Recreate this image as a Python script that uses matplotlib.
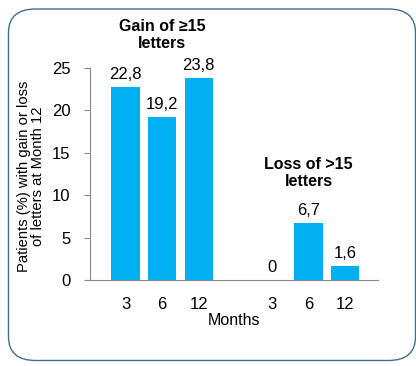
import matplotlib.pyplot as plt
from matplotlib.patches import FancyBboxPatch

plt.rcParams['font.family'] = ['Liberation Sans', 'DejaVu Sans']

months = ['3', '6', '12', '3', '6', '12']
gain = [22.8, 19.2, 23.8]
loss = [0.0, 6.7, 1.6]
gain_title = 'Gain of \u226515\nletters'
loss_title = 'Loss of >15\nletters'

values = gain + loss
pos = [0, 1, 2, 4, 5, 6]

fig = plt.figure(figsize=(4.16, 3.66), dpi=100)

# rounded frame around the whole chart
frame = FancyBboxPatch((8.5 / 416, 5.5 / 366), 407 / 416, 351.5 / 366,
                       boxstyle='round,pad=0,rounding_size=0.065',
                       transform=fig.transFigure, fill=False,
                       edgecolor='#41708c', linewidth=1.0, zorder=0)
fig.patches.append(frame)

ax = fig.add_axes([90 / 416, 1 - 280 / 366, 288 / 416, 212 / 366])
bars = ax.bar(pos, values, width=0.77, color='#00b0f0')

for x, v in zip(pos, values):
    ax.text(x, v + 0.6, f'{v:.1f}'.replace('.', ',') if v else '0',
            ha='center', va='bottom', fontsize=12)

ax.text(1, 28.9, gain_title, ha='center', va='center', fontsize=11.5,
        fontweight='bold', linespacing=1.15)
ax.text(5, 12.6, loss_title, ha='center', va='center', fontsize=11.5,
        fontweight='bold', linespacing=1.15)

ax.set_xlim(-0.97, 6.9)
ax.set_ylim(0, 25)
ax.set_yticks([0, 5, 10, 15, 20, 25])
ax.set_xticks(pos)
ax.set_xticklabels(months)
ax.tick_params(axis='x', length=0, labelsize=12, pad=12)
ax.tick_params(axis='y', length=4, color='#888888', labelsize=12, pad=10)
for side in ['top', 'right']:
    ax.spines[side].set_visible(False)
for side in ['left', 'bottom']:
    ax.spines[side].set_color('#888888')
ax.set_xlabel('Months', fontsize=11.5, labelpad=1)
ax.set_ylabel('Patients (%) with gain or loss\nof letters at Month 12',
              fontsize=10.6, linespacing=1.05, va='center')
ax.yaxis.set_label_coords(-0.205, 0.49)

fig.savefig('out.png', dpi=100)
